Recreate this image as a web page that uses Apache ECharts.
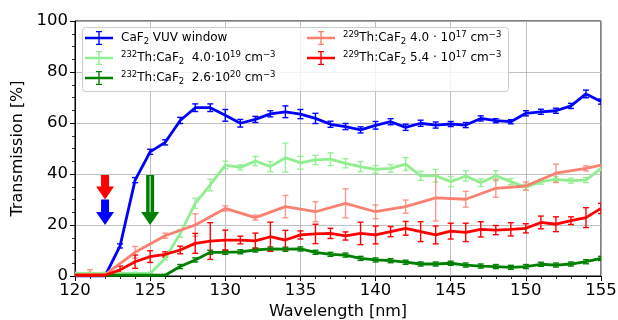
<!DOCTYPE html>
<html>
<head>
<meta charset="utf-8">
<script src="https://cdn.jsdelivr.net/npm/echarts@6/dist/echarts.min.js"></script>
<style>html,body{margin:0;padding:0;background:#fff;}#c{width:618px;height:320px;}</style>
</head>
<body>
<div id="c"></div>
<script>
// ---- data ----
const wavelengths = [120,121,122,123,124,125,126,127,128,129,130,131,132,133,134,135,136,137,138,139,140,141,142,143,144,145,146,147,148,149,150,151,152,153,154,155];
const caf2Window = [0,0,0,11.8,37.6,48.7,52.4,61,66,66,63,59.9,61.4,63.6,64.4,63.5,61.8,59.5,58.6,57.3,59.1,60.5,58.3,59.9,59.2,59.6,59.2,61.8,60.9,60.5,63.8,64.4,64.8,66.7,71.4,68.4];
const caf2WindowErr = [0.3,0.3,0.3,0.8,1,1,1,1.2,1.5,1.5,2.3,1.5,1.2,1.2,2.3,1.8,2,1.2,1.2,1.2,1.5,1.2,1.2,1.2,1.2,1,1,1,0.8,0.8,1,1,1,1,1.5,1];
const th232Low = [1,1,1,1,1,1,6.9,16.7,28.5,35.7,43.5,42.6,45.1,42.9,46.4,44.4,45.5,45.8,44.2,42.9,41.8,42.2,43.9,39.3,39.3,37,39.2,36.6,39.3,37,34.8,37,37.9,37.4,37.6,42.2];
const th232LowErr = [0.5,0.5,0.5,0.5,0.5,0.5,0.5,1.5,2,2.3,1.5,1,1.8,2,5.7,2.5,1.8,2.5,1.8,2,1.5,1.5,2.5,1.8,2.5,2,2,1.5,2,1.2,1.2,1,1,1,1,1];
const th232High = [0.3,0.3,0.3,0.3,0.3,0.3,0.3,3.7,6.3,9.3,9.3,9.5,10.2,10.6,10.5,10.6,9.3,8.5,8.2,6.9,6.3,6.0,5.4,4.7,4.7,5.0,4.3,3.9,3.7,3.4,3.7,4.6,4.3,4.7,5.6,6.9];
const th232HighErr = [0.3,0.3,0.3,0.3,0.3,0.3,0.3,0.8,0.8,0.8,0.8,0.8,0.8,0.8,0.8,0.8,0.8,0.8,0.8,0.8,0.8,0.8,0.8,0.8,0.8,0.8,0.8,0.8,0.8,0.8,0.8,0.8,0.8,0.8,0.8,0.8];
const th229HighWl = wavelengths;
const th229High = [0.3,0.3,0.3,2.4,5.6,7.6,8.5,10.2,12.8,13.7,14.1,14.1,13.8,15.4,14.1,16.1,16.5,16.7,15.7,16.7,16.1,17.4,18.7,17.4,16.1,17.6,17.1,18.3,18.0,18.3,18.7,21.0,20.3,21.7,22.9,26.5];
const th229HighErr = [0.3,0.3,0.3,1.5,2.6,2.3,1,1.5,3.9,7.2,3.9,1.5,3,5.7,3.8,1.6,3.8,2,1.6,4.4,3.5,2,2.7,3.9,3.5,3.1,3.6,3,1.8,2.6,1.8,2.5,2.9,1.5,3.9,2];
const th229LowWl = [120,121,122,124,126,128,130,132,134,136,138,140,142,144,146,148,150,152,154,155];
const th229Low = [0.5,0.5,0.5,9.3,15.8,20,26.5,22.9,27.2,25.2,28.5,25.2,27.2,30.6,30.1,34.4,35.3,40.3,42.2,43.5];
const th229LowErr = [0.5,2,0.5,2.3,1,4.4,1,1,4.4,3.9,5.7,2.7,2.6,9,3.1,3.5,1.6,3.6,1,0];
// arrows: wavelength, top of shaft, tip (in %)
const arrowWl = [122, 122, 125];
const arrowTop = [39.6, 30, 39.6];
const arrowTip = [30, 20, 20];
const xTicks = [120,125,130,135,140,145,150,155];
const yTicks = [0,20,40,60,80,100];

// ---- styles ----
const FONT = 'DejaVu Sans';
const C_BLUE = '#0000ff', C_LG = '#90ee90', C_G = '#008000', C_SAL = '#fa8072', C_RED = '#ff0000';
const arrowColors = [C_RED, C_BLUE, C_G];

function pairs(xs, ys, es){ return xs.map((x,i)=> es ? [x, ys[i], es[i]] : [x, ys[i]]); }

function errRender(color, opacity){
  return function(params, api){
    const x = api.value(0), y = api.value(1), e = api.value(2);
    if (!(e > 0)) return null;
    const lo = api.coord([x, y - e]), hi = api.coord([x, y + e]);
    const h = 3;
    const st = {stroke: color, lineWidth: 1.4, opacity: opacity};
    return {type:'group', children:[
      {type:'line', shape:{x1:lo[0], y1:lo[1], x2:hi[0], y2:hi[1]}, style:st},
      {type:'line', shape:{x1:lo[0]-h, y1:lo[1], x2:lo[0]+h, y2:lo[1]}, style:st},
      {type:'line', shape:{x1:hi[0]-h, y1:hi[1], x2:hi[0]+h, y2:hi[1]}, style:st}
    ]};
  };
}

function lineSeries(name, data, color, z){
  return {name:name, type:'line', data:data, symbol:'none', z:z,
    lineStyle:{color:color, width:2.8}, itemStyle:{color:color}, animation:false, clip:true};
}
function errSeries(name, data, color, opacity, z){
  return {name:name, type:'custom', data:data, renderItem:errRender(color, opacity), z:z,
    clip:true, animation:false, silent:true};
}

const N1 = 'CaF2 VUV window', N2 = '232Th low', N3 = '232Th high', N4 = '229Th low', N5 = '229Th high';
const labels = {};
labels[N1] = 'CaF{sub|2} VUV window';
labels[N2] = '{sup|232}Th:CaF{sub|2}  4.0·10{sup|19} cm{sup|−3}';
labels[N3] = '{sup|232}Th:CaF{sub|2}  2.6·10{sup|20} cm{sup|−3}';
labels[N4] = '{sup|229}Th:CaF{sub|2} 4.0 · 10{sup|17} cm{sup|−3}';
labels[N5] = '{sup|229}Th:CaF{sub|2} 5.4 · 10{sup|17} cm{sup|−3}';

const ICON = 'path://M0,5.7h28v2.6h-28z M13.3,0h1.4v14h-1.4z M11,0h6v1.2h-6z M11,12.8h6v1.2h-6z';
const legendText = {
  color:'#000', fontFamily:FONT, fontSize:12, lineHeight:16, padding:[0,0,0,3],
  rich:{
    sup:{fontSize:8.5, fontFamily:FONT, color:'#000', lineHeight:11, verticalAlign:'top'},
    sub:{fontSize:8.5, fontFamily:FONT, color:'#000', lineHeight:11, verticalAlign:'bottom'}
  }
};
function mkLegend(names, left){
  return {data:names.map(n=>({name:n, icon:ICON})), left:left, top:30, orient:'vertical',
    itemWidth:28, itemHeight:14, itemGap:4, padding:0, textStyle:legendText,
    formatter:function(n){ return labels[n]; }, selectedMode:false, z:10};
}

function arrowRender(params, api){
  const i = params.dataIndex;
  const x = api.value(0), top = api.value(1), tip = api.value(2);
  const pTop = api.coord([x, top]), pTip = api.coord([x, tip]);
  const cx = pTop[0];
  const headH = 13, headW = 9, shaftW = 4;
  const yBase = pTip[1] - headH;
  const color = arrowColors[i];
  const children = [
    {type:'rect', shape:{x:cx-shaftW, y:pTop[1], width:2*shaftW, height:yBase - pTop[1] + 0.5}, style:{fill:color}},
    {type:'polygon', shape:{points:[[cx-headW, yBase],[cx+headW, yBase],[cx, pTip[1]]]}, style:{fill:color}}
  ];
  if (i === 2) {
    children.push({type:'line', shape:{x1:cx, y1:pTop[1]+1, x2:cx, y2:yBase}, style:{stroke:'rgba(255,255,255,0.75)', lineWidth:1.3}});
  }
  return {type:'group', children:children};
}

const option = {
  backgroundColor:'#ffffff',
  animation:false,
  textStyle:{fontFamily:FONT},
  grid:{left:75, right:17, top:21, bottom:44, show:true, borderColor:'#000', borderWidth:1,
    backgroundColor:'transparent', containLabel:false, outerBoundsMode:'none'},
  xAxis:{type:'value', min:xTicks[0], max:xTicks[xTicks.length-1], interval:5,
    name:'Wavelength [nm]', nameLocation:'middle', nameGap:27,
    nameTextStyle:{fontFamily:FONT, fontSize:16, color:'#000'},
    axisLine:{show:true, lineStyle:{color:'#000', width:1}},
    axisTick:{show:true, inside:false, length:5, lineStyle:{color:'#000', width:1}},
    minorTick:{show:true, splitNumber:5, length:3, lineStyle:{color:'#000', width:0.8}},
    splitLine:{show:true, lineStyle:{color:'#b0b0b0', width:0.8}},
    axisLabel:{fontFamily:FONT, fontSize:16.5, color:'#000', margin:6}
  },
  yAxis:{type:'value', min:yTicks[0], max:yTicks[yTicks.length-1], interval:20,
    name:'Transmission [%]', nameLocation:'middle', nameGap:46,
    nameTextStyle:{fontFamily:FONT, fontSize:16, color:'#000'},
    axisLine:{show:true, lineStyle:{color:'#000', width:1}},
    axisTick:{show:true, inside:false, length:5, lineStyle:{color:'#000', width:1}},
    minorTick:{show:true, splitNumber:4, length:3, lineStyle:{color:'#000', width:0.8}},
    splitLine:{show:true, lineStyle:{color:'#b0b0b0', width:0.8}},
    axisLabel:{fontFamily:FONT, fontSize:16.5, color:'#000', margin:7}
  },
  legend:[mkLegend([N1,N2,N3], 85), mkLegend([N4,N5], 307)],
  graphic:[{type:'rect', left:82, top:27, shape:{width:426, height:64, r:3}, z:5,
    style:{fill:'rgba(255,255,255,0.8)', stroke:'#cccccc', lineWidth:1}}],
  series:[
    lineSeries(N1, pairs(wavelengths, caf2Window), C_BLUE, 2),
    errSeries('e1', pairs(wavelengths, caf2Window, caf2WindowErr), C_BLUE, 1, 2),
    lineSeries(N2, pairs(wavelengths, th232Low), C_LG, 2),
    errSeries('e2', pairs(wavelengths, th232Low, th232LowErr), C_LG, 0.9, 2),
    lineSeries(N3, pairs(wavelengths, th232High), C_G, 2),
    errSeries('e3', pairs(wavelengths, th232High, th232HighErr), C_G, 1, 2),
    lineSeries(N4, pairs(th229LowWl, th229Low), C_SAL, 2),
    errSeries('e4', pairs(th229LowWl, th229Low, th229LowErr), C_SAL, 0.8, 2),
    lineSeries(N5, pairs(th229HighWl, th229High), C_RED, 2),
    errSeries('e5', pairs(th229HighWl, th229High, th229HighErr), C_RED, 1, 2),
    {name:'arrows', type:'custom', data:arrowWl.map((x,i)=>[x, arrowTop[i], arrowTip[i]]),
      renderItem:arrowRender, z:3, clip:false, animation:false, silent:true}
  ]
};

const chart = echarts.init(document.getElementById('c'), null, {renderer:'canvas'});
chart.setOption(option);
</script>
</body>
</html>
